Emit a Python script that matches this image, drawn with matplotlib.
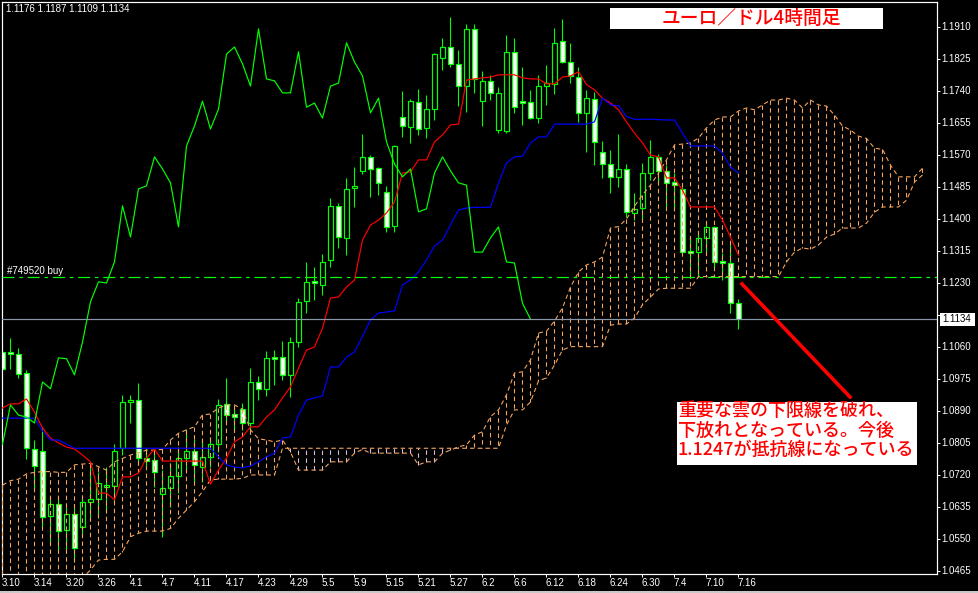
import matplotlib
matplotlib.use("Agg")
import matplotlib.pyplot as plt
from matplotlib.patches import Rectangle
import numpy as np

# ---------------- data ----------------
date_labels = ["3.10", "3.14", "3.20", "3.26", "4.1", "4.7", "4.11", "4.17", "4.23", "4.29",
               "5.5", "5.9", "5.15", "5.21", "5.27", "6.2", "6.6", "6.12", "6.18", "6.24",
               "6.30", "7.4", "7.10", "7.16"]

open_ = [1.1047, 1.1047, 1.1041, 1.0991, 1.0789, 1.0784, 1.0611, 1.0643, 1.0574, 1.0617,
         1.0582, 1.0648, 1.0656, 1.0688, 1.0691, 1.0792, 1.0915, 1.0919, 1.0765, 1.0760,
         1.0670, 1.0686, 1.0717, 1.0765, 1.0784, 1.0741, 1.0768, 1.0802, 1.0909, 1.0882,
         1.0895, 1.0858, 1.0967, 1.0949, 1.1033, 1.1033, 1.0986, 1.1073, 1.1182, 1.1233,
         1.1225, 1.1291, 1.1435, 1.1350, 1.1482, 1.1528, 1.1565, 1.1536, 1.1472, 1.1381,
         1.1671, 1.1644, 1.1711, 1.1642, 1.1692, 1.1828, 1.1857, 1.1812, 1.1753, 1.1905,
         1.1713, 1.1767, 1.1636, 1.1634, 1.1844, 1.1713, 1.1711, 1.1668, 1.1753, 1.1759,
         1.1873, 1.1817, 1.1777, 1.1682, 1.1719, 1.1578, 1.1546, 1.1512, 1.1533, 1.1416,
         1.1429, 1.1522, 1.1565, 1.1528, 1.1498, 1.1480, 1.1314, 1.1312, 1.1350, 1.1379,
         1.1288, 1.1283, 1.1176]

high = [1.1068, 1.1084, 1.1057, 1.0999, 1.0813, 1.0845, 1.0662, 1.0662, 1.0635, 1.0635,
        1.0662, 1.0741, 1.0728, 1.0741, 1.0802, 1.0933, 1.0933, 1.0964, 1.0792, 1.0781,
        1.0733, 1.0752, 1.0794, 1.0842, 1.0816, 1.0816, 1.0821, 1.0922, 1.0978, 1.0898,
        1.0911, 1.1004, 1.0983, 1.1049, 1.1052, 1.1076, 1.1087, 1.1190, 1.1286, 1.1272,
        1.1307, 1.1456, 1.1442, 1.1509, 1.1538, 1.1626, 1.1570, 1.1538, 1.1488, 1.1597,
        1.1740, 1.1719, 1.1745, 1.1729, 1.1841, 1.1881, 1.1937, 1.1849, 1.1918, 1.1918,
        1.1793, 1.1783, 1.1751, 1.1889, 1.1881, 1.1804, 1.1743, 1.1783, 1.1809, 1.1907,
        1.1931, 1.1868, 1.1804, 1.1743, 1.1737, 1.1607, 1.1583, 1.1626, 1.1546, 1.1469,
        1.1549, 1.1610, 1.1573, 1.1544, 1.1522, 1.1485, 1.1352, 1.1366, 1.1392, 1.1381,
        1.1310, 1.1339, 1.1187]

low = [1.1000, 1.1002, 1.0978, 1.0763, 1.0683, 1.0582, 1.0537, 1.0521, 1.0521, 1.0489,
       1.0555, 1.0600, 1.0606, 1.0619, 1.0648, 1.0773, 1.0858, 1.0747, 1.0739, 1.0688,
       1.0555, 1.0635, 1.0672, 1.0733, 1.0699, 1.0701, 1.0741, 1.0781, 1.0861, 1.0840,
       1.0840, 1.0837, 1.0919, 1.0930, 1.0959, 1.0972, 1.0927, 1.1060, 1.1150, 1.1185,
       1.1198, 1.1272, 1.1323, 1.1304, 1.1432, 1.1520, 1.1458, 1.1464, 1.1366, 1.1366,
       1.1618, 1.1602, 1.1623, 1.1615, 1.1663, 1.1796, 1.1804, 1.1700, 1.1684, 1.1735,
       1.1647, 1.1716, 1.1628, 1.1628, 1.1682, 1.1650, 1.1666, 1.1655, 1.1703, 1.1732,
       1.1814, 1.1761, 1.1658, 1.1578, 1.1544, 1.1509, 1.1469, 1.1485, 1.1405, 1.1397,
       1.1397, 1.1504, 1.1496, 1.1424, 1.1424, 1.1310, 1.1246, 1.1246, 1.1310, 1.1272,
       1.1238, 1.1150, 1.1109]

close = [1.1002, 1.1041, 1.0988, 1.0792, 1.0744, 1.0609, 1.0643, 1.0571, 1.0617, 1.0526,
         1.0648, 1.0656, 1.0699, 1.0693, 1.0784, 1.0914, 1.0918, 1.0765, 1.0757, 1.0728,
         1.0686, 1.0717, 1.0765, 1.0784, 1.0747, 1.0768, 1.0802, 1.0906, 1.0879, 1.0874,
         1.0858, 1.0967, 1.0949, 1.1031, 1.1029, 1.0986, 1.1073, 1.1180, 1.1233, 1.1230,
         1.1286, 1.1435, 1.1352, 1.1480, 1.1488, 1.1565, 1.1533, 1.1496, 1.1379, 1.1594,
         1.1647, 1.1713, 1.1639, 1.1692, 1.1838, 1.1857, 1.1812, 1.1753, 1.1905, 1.1772,
         1.1767, 1.1735, 1.1735, 1.1844, 1.1697, 1.1708, 1.1668, 1.1753, 1.1761, 1.1868,
         1.1817, 1.1780, 1.1682, 1.1721, 1.1605, 1.1546, 1.1512, 1.1533, 1.1419, 1.1427,
         1.1522, 1.1565, 1.1528, 1.1496, 1.1490, 1.1312, 1.1312, 1.1350, 1.1379, 1.1286,
         1.1283, 1.1176, 1.1134]

tenkan = [1.0898, 1.0909, 1.0909, 1.0922, 1.0887, 1.0845, 1.0818, 1.0805, 1.0794, 1.0789,
          1.0773, 1.0755, 1.0672, 1.0672, 1.0654, 1.0715, 1.0715, 1.0725, 1.0765, 1.0789,
          1.0757, 1.0757, 1.0757, 1.0757, 1.0757, 1.0757, 1.0696, 1.0733, 1.0765, 1.0808,
          1.0821, 1.0848, 1.0848, 1.0874, 1.0893, 1.0925, 1.0954, 1.1004, 1.1052, 1.1060,
          1.1110, 1.1190, 1.1193, 1.1219, 1.1238, 1.1344, 1.1384, 1.1397, 1.1416, 1.1445,
          1.1522, 1.1525, 1.1557, 1.1557, 1.1605, 1.1623, 1.1650, 1.1652, 1.1769, 1.1772,
          1.1775, 1.1777, 1.1783, 1.1783, 1.1783, 1.1775, 1.1772, 1.1772, 1.1759, 1.1759,
          1.1777, 1.1780, 1.1791, 1.1757, 1.1743, 1.1721, 1.1708, 1.1690, 1.1658, 1.1628,
          1.1602, 1.1570, 1.1565, 1.1509, 1.1509, 1.1477, 1.1432, 1.1432, 1.1432, 1.1432,
          1.1397, 1.1352, 1.1304]

kijun = [1.0871, 1.0871, 1.0871, 1.0871, 1.0871, 1.0837, 1.0813, 1.0813, 1.0802, 1.0791,
         1.0791, 1.0791, 1.0791, 1.0791, 1.0791, 1.0791, 1.0791, 1.0791, 1.0791, 1.0791,
         1.0791, 1.0791, 1.0791, 1.0791, 1.0791, 1.0791, 1.0791, 1.0768, 1.0747, 1.0741,
         1.0739, 1.0744, 1.0755, 1.0768, 1.0778, 1.0818, 1.0821, 1.0879, 1.0919, 1.0925,
         1.0930, 1.1007, 1.1007, 1.1033, 1.1047, 1.1089, 1.1132, 1.1150, 1.1153, 1.1156,
         1.1225, 1.1238, 1.1259, 1.1291, 1.1328, 1.1344, 1.1384, 1.1424, 1.1429, 1.1431,
         1.1431, 1.1431, 1.1496, 1.1549, 1.1565, 1.1567, 1.1602, 1.1618, 1.1618, 1.1652,
         1.1652, 1.1652, 1.1652, 1.1652, 1.1658, 1.1721, 1.1703, 1.1701, 1.1672, 1.1665,
         1.1665, 1.1665, 1.1664, 1.1663, 1.1663, 1.1628, 1.1594, 1.1594, 1.1594, 1.1594,
         1.1575, 1.1538, 1.1522]

chikou = [1.0802, 1.0906, 1.0879, 1.0874, 1.0858, 1.0967, 1.0949, 1.1031, 1.1029, 1.0986,
          1.1073, 1.1180, 1.1233, 1.1230, 1.1286, 1.1435, 1.1352, 1.1480, 1.1488, 1.1565,
          1.1533, 1.1496, 1.1379, 1.1594, 1.1647, 1.1713, 1.1639, 1.1692, 1.1838, 1.1857,
          1.1812, 1.1753, 1.1905, 1.1772, 1.1767, 1.1735, 1.1735, 1.1844, 1.1697, 1.1708,
          1.1668, 1.1753, 1.1761, 1.1868, 1.1817, 1.1780, 1.1682, 1.1721, 1.1605, 1.1546,
          1.1512, 1.1533, 1.1419, 1.1427, 1.1522, 1.1565, 1.1528, 1.1496, 1.1490, 1.1312,
          1.1312, 1.1350, 1.1379, 1.1286, 1.1283, 1.1176, 1.1134]

span_a = [1.0693, 1.0705, 1.0709, 1.0723, 1.0727, 1.0729, 1.0729, 1.0727, 1.0727, 1.0747,
          1.0749, 1.0751, 1.0742, 1.0733, 1.0755, 1.0764, 1.0773, 1.0779, 1.0786, 1.0786,
          1.0788, 1.0813, 1.0831, 1.0840, 1.0848, 1.0880, 1.0882, 1.0898, 1.0906, 1.0906,
          1.0895, 1.0840, 1.0816, 1.0813, 1.0808, 1.0813, 1.0781, 1.0733, 1.0733, 1.0733,
          1.0733, 1.0755, 1.0755, 1.0755, 1.0778, 1.0788, 1.0778, 1.0778, 1.0778, 1.0778,
          1.0778, 1.0778, 1.0747, 1.0755, 1.0755, 1.0778, 1.0786, 1.0795, 1.0800, 1.0826,
          1.0835, 1.0875, 1.0893, 1.0933, 1.0991, 1.0994, 1.1026, 1.1097, 1.1102, 1.1129,
          1.1164, 1.1219, 1.1259, 1.1278, 1.1286, 1.1299, 1.1376, 1.1380, 1.1400, 1.1434,
          1.1464, 1.1490, 1.1522, 1.1557, 1.1597, 1.1599, 1.1602, 1.1615, 1.1642, 1.1663,
          1.1671, 1.1671, 1.1687, 1.1695, 1.1690, 1.1703, 1.1716, 1.1716, 1.1721, 1.1716,
          1.1695, 1.1716, 1.1703, 1.1700, 1.1676, 1.1647, 1.1636, 1.1620, 1.1614, 1.1588,
          1.1585, 1.1543, 1.1512, 1.1512, 1.1512, 1.1535]

span_b = [1.0415, 1.0415, 1.0415, 1.0415, 1.0415, 1.0415, 1.0415, 1.0415, 1.0415, 1.0415,
          1.0446, 1.0468, 1.0494, 1.0496, 1.0496, 1.0516, 1.0556, 1.0565, 1.0571, 1.0571,
          1.0571, 1.0578, 1.0605, 1.0627, 1.0649, 1.0676, 1.0707, 1.0709, 1.0709, 1.0709,
          1.0711, 1.0720, 1.0720, 1.0720, 1.0720, 1.0791, 1.0791, 1.0791, 1.0791, 1.0791,
          1.0791, 1.0791, 1.0791, 1.0791, 1.0791, 1.0791, 1.0791, 1.0791, 1.0791, 1.0791,
          1.0791, 1.0791, 1.0791, 1.0791, 1.0791, 1.0791, 1.0791, 1.0791, 1.0791, 1.0791,
          1.0791, 1.0791, 1.0791, 1.0853, 1.0893, 1.0893, 1.0914, 1.0970, 1.0978, 1.1012,
          1.1052, 1.1061, 1.1061, 1.1061, 1.1061, 1.1061, 1.1118, 1.1121, 1.1121, 1.1137,
          1.1172, 1.1193, 1.1214, 1.1216, 1.1216, 1.1216, 1.1216, 1.1247, 1.1247, 1.1247,
          1.1247, 1.1247, 1.1247, 1.1247, 1.1247, 1.1247, 1.1247, 1.1247, 1.1286, 1.1312,
          1.1323, 1.1320, 1.1331, 1.1352, 1.1360, 1.1376, 1.1376, 1.1376, 1.1389, 1.1418,
          1.1432, 1.1432, 1.1432, 1.1450, 1.1498, 1.1517]

price_ticks = [1.0465, 1.0550, 1.0635, 1.0720, 1.0805, 1.0890, 1.0975, 1.1060, 1.1145,
               1.1230, 1.1315, 1.1400, 1.1485, 1.1570, 1.1655, 1.1740, 1.1825, 1.1910]

order_price = 1.1247
bid_price = 1.1134
header_text = "1.1176 1.1187 1.1109 1.1134"
order_label = "#749520 buy"
title_text = "ユーロ／ドル4時間足"
note_lines = ["重要な雲の下限線を破れ、", "下放れとなっている。今後", "1.1247が抵抗線になっている"]

# ---------------- styling ----------------
W, H = 979, 593
PX = 0.72  # one pixel in points at dpi 100
LIME = "#00FF00"
SANDY = "#F4A460"
THISTLE = "#D8BFD8"
NUMFONT = ["Liberation Sans", "DejaVu Sans"]
JPFONT = ["Noto Sans CJK JP", "DejaVu Sans"]

fig = plt.figure(figsize=(W / 100, H / 100), dpi=100, facecolor="black")
ax = fig.add_axes([2 / W, 1 - 574 / H, 935.5 / W, 572 / H])
ax.set_facecolor("black")
ax.set_xlim(-0.0625, 116.875)
ax.set_ylim(1.04570, 1.19764)

# candles
for i in range(len(close)):
    o, h, l, c = open_[i], high[i], low[i], close[i]
    ax.plot([i, i], [l, h], color=LIME, lw=PX * 1.1, zorder=2, solid_capstyle="butt")
    lo, hi = min(o, c), max(o, c)
    hgt = max(hi - lo, 0.0005)
    mid = (lo + hi) / 2
    ax.add_patch(Rectangle((i - 0.28, mid - hgt / 2), 0.56, hgt,
                           facecolor="black" if c > o else "white",
                           edgecolor=LIME, lw=PX * 1.2, zorder=2.5))

# cloud hatch + edges
dash = (0, (4, 3))
for i in range(len(span_a)):
    col = SANDY if span_a[i] >= span_b[i] else THISTLE
    ax.plot([i, i], [span_a[i], span_b[i]], color=col, lw=PX * 1.1, ls=dash, zorder=3)
ax.plot(np.arange(len(span_a)), span_a, color=SANDY, lw=PX * 1.1, ls=dash, zorder=3)
ax.plot(np.arange(len(span_b)), span_b, color=SANDY, lw=PX * 1.1, ls=dash, zorder=3)

# ichimoku lines
ax.plot(np.arange(len(tenkan)), tenkan, color="red", lw=PX * 1.2, zorder=4)
ax.plot(np.arange(len(kijun)), kijun, color="blue", lw=PX * 1.2, zorder=4)
ax.plot(np.arange(len(chikou)), chikou, color=LIME, lw=PX * 1.2, zorder=4)

# order line and bid line
ax.axhline(order_price, color=LIME, lw=PX * 1.2, ls=(0, (10, 4, 3, 4)), zorder=5)
ax.axhline(bid_price, color="#8A96A8", lw=PX * 1.2, zorder=5)

# axes frame / ticks
for s in ax.spines.values():
    s.set_color("white")
    s.set_linewidth(PX * 1.2)
ax.set_xticks(range(0, 4 * len(date_labels), 4))
ax.set_yticks(price_ticks)
ax.tick_params(axis="x", bottom=True, top=False, direction="out", length=2.4,
               width=PX, color="white", labelbottom=False)
ax.tick_params(axis="y", left=False, right=True, direction="out", length=2.2,
               width=PX, color="white", labelleft=False, labelright=False)

xt = ax.get_xaxis_transform()
for k, lab in enumerate(date_labels):
    ax.text(4 * k - 0.1, -0.0165, lab, transform=xt, color="white", fontsize=7,
            family=NUMFONT, ha="left", va="center", clip_on=False)
yt = ax.get_yaxis_transform()
for v in price_ticks:
    # the 1.1145 label sits under the bid-price box on the price scale
    if abs(v - bid_price) < 0.002:
        continue
    ax.text(1.0042, v, f"{v:.4f}", transform=yt, color="white", fontsize=7,
            family=NUMFONT, ha="left", va="center", clip_on=False)

# bid price box on the scale
fig.add_artist(Rectangle((940 / W, 1 - 326 / H), 35 / W, 13 / H, transform=fig.transFigure,
                         facecolor="white", edgecolor="none"))
fig.text(942 / W, 1 - 319.5 / H, f"{bid_price:.4f}", color="black", fontsize=7,
         family=NUMFONT, ha="left", va="center")

# texts
fig.text(6 / W, 1 - 8.5 / H, header_text, color="white", fontsize=7, family=NUMFONT,
         ha="left", va="center")
fig.text(7 / W, 1 - 270.5 / H, order_label, color="white", fontsize=7, family=NUMFONT,
         ha="left", va="center")

fig.add_artist(Rectangle((610 / W, 1 - 29 / H), 273 / W, 21 / H, transform=fig.transFigure,
                         facecolor="white", edgecolor="none"))
fig.text(751 / W, 1 - 18.5 / H, title_text, color="red", fontsize=13.5, family=JPFONT,
         ha="center", va="center", weight="medium")

fig.add_artist(Rectangle((677 / W, 1 - 465 / H), 240 / W, 63 / H, transform=fig.transFigure,
                         facecolor="white", edgecolor="none"))
for k, line in enumerate(note_lines):
    fig.text(678 / W, 1 - (411 + 19.5 * k) / H, line, color="red", fontsize=13,
             family=JPFONT, ha="left", va="center", weight="medium")

# red pointer line
fig.add_artist(plt.Line2D([742 / W, 850 / W], [1 - 284 / H, 1 - 397 / H],
                          transform=fig.transFigure, color="red", lw=2.6))

# bottom window strip
fig.add_artist(Rectangle((0, 0), 1, 2 / H, transform=fig.transFigure,
                         facecolor="#C8C8C8", edgecolor="none"))

fig.savefig("out.png", dpi=100, facecolor="black")
